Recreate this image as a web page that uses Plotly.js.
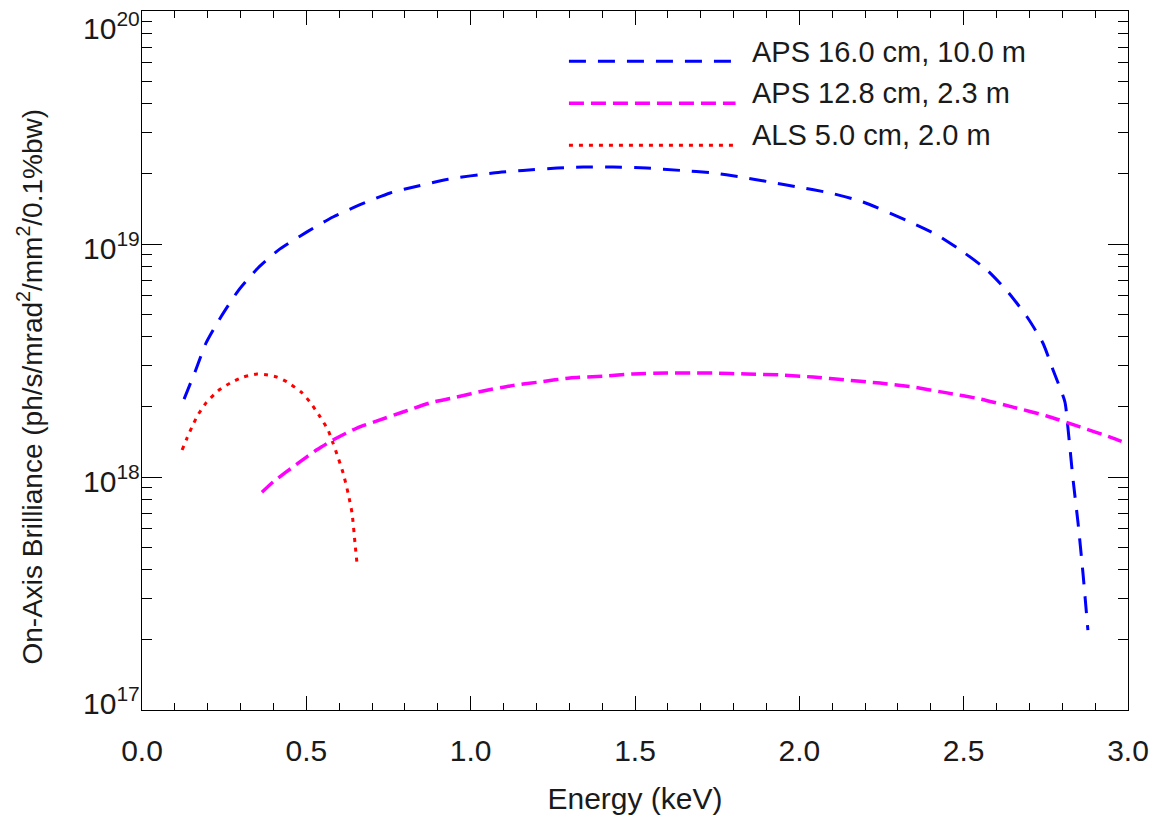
<!DOCTYPE html>
<html>
<head>
<meta charset="utf-8">
<script src="https://cdn.plot.ly/plotly-3.0.1.min.js"></script>
<style>
  html, body { margin: 0; padding: 0; background: #ffffff; }
  #plot { width: 1152px; height: 816px; }
</style>
</head>
<body>
<div id="plot"></div>
<script>
// Undulator on-axis brilliance versus photon energy

const seriesNames = ["APS 16.0 cm, 10.0 m", "APS 12.8 cm, 2.3 m", "ALS 5.0 cm, 2.0 m"];

// APS 16.0 cm period, 10.0 m long
const aps16Energy = [0.128, 0.161, 0.195, 0.240, 0.292, 0.353, 0.420, 0.502, 0.581, 0.669,
  0.755, 0.840, 0.931, 1.068, 1.159, 1.263, 1.342, 1.433, 1.536, 1.637,
  1.737, 1.819, 1.911, 1.993, 2.093, 2.194, 2.337, 2.419, 2.498,
  2.571, 2.635, 2.693, 2.741, 2.772, 2.808, 2.817, 2.833, 2.848, 2.863, 2.878];
const aps16Brilliance = [2.16e18, 2.82e18, 3.76e18, 4.86e18, 6.28e18, 7.89e18, 9.53e18, 1.127e19, 1.306e19, 1.486e19,
  1.656e19, 1.774e19, 1.897e19, 2.018e19, 2.070e19, 2.118e19, 2.138e19, 2.138e19, 2.118e19, 2.070e19,
  2.018e19, 1.941e19, 1.845e19, 1.758e19, 1.656e19, 1.514e19, 1.242e19, 1.094e19, 9.25e18,
  7.73e18, 6.22e18, 4.86e18, 3.76e18, 2.88e18, 2.10e18, 1.64e18, 9.70e17, 6.35e17, 3.87e17, 2.20e17];

// APS 12.8 cm period, 2.3 m long
const aps128Energy = [0.365, 0.399, 0.472, 0.532, 0.581, 0.654, 0.724, 0.794, 0.876, 0.958,
  1.038, 1.120, 1.211, 1.302, 1.403, 1.494, 1.597, 1.689, 1.737, 1.841,
  1.941, 2.042, 2.145, 2.245, 2.346, 2.449, 2.550, 2.650, 2.753, 2.854, 2.954, 3.0];
const aps128Brilliance = [8.60e17, 9.53e17, 1.138e18, 1.309e18, 1.442e18, 1.622e18, 1.758e18, 1.901e18, 2.080e18, 2.203e18,
  2.339e18, 2.460e18, 2.559e18, 2.661e18, 2.710e18, 2.767e18, 2.793e18, 2.793e18, 2.793e18, 2.767e18,
  2.742e18, 2.685e18, 2.606e18, 2.529e18, 2.432e18, 2.296e18, 2.163e18, 1.995e18, 1.828e18, 1.641e18, 1.469e18, 1.387e18];

// ALS 5.0 cm period, 2.0 m long
const alsEnergy = [0.122, 0.137, 0.152, 0.170, 0.195, 0.231, 0.268, 0.307, 0.350, 0.383,
  0.411, 0.441, 0.484, 0.511, 0.542, 0.566, 0.581, 0.596, 0.612, 0.627, 0.639, 0.648, 0.654];
const alsBrilliance = [1.306e18, 1.469e18, 1.641e18, 1.845e18, 2.080e18, 2.339e18, 2.529e18, 2.685e18, 2.767e18, 2.742e18,
  2.685e18, 2.559e18, 2.317e18, 2.099e18, 1.811e18, 1.592e18, 1.400e18, 1.219e18, 1.040e18, 8.53e17, 7.01e17, 5.21e17, 4.28e17];

// decade ticks on the brilliance axis
const yTickVals = [1e17, 1e18, 1e19, 1e20];
const yTickText = ["10<sup>17</sup>", "10<sup>18</sup>", "10<sup>19</sup>", "10<sup>20</sup>"];

const styles = [
  { color: "#0000ff", dash: "17px,12px", width: 3 },
  { color: "#ff00ff", dash: "15px,7px", width: 3.5 },
  { color: "#ff0000", dash: "4px,6px", width: 3 }
];

const xs = [aps16Energy, aps128Energy, alsEnergy];
const ys = [aps16Brilliance, aps128Brilliance, alsBrilliance];

const traces = xs.map((x, i) => ({
  x: x, y: ys[i], type: "scatter", mode: "lines", name: seriesNames[i],
  line: { color: styles[i].color, dash: styles[i].dash, width: styles[i].width, shape: "spline", smoothing: 0.6 },
  showlegend: false, hoverinfo: "x+y"
}));

// minor ticks on the log axis: 2..9 within each decade
const yMinor = [];
for (let d = 17; d < 20; d++) {
  for (let m = 2; m <= 9; m++) yMinor.push(m * Math.pow(10, d));
}

const family = "Liberation Sans, Arial, Helvetica, sans-serif";
const font = { family: family, size: 29, color: "#1a1a1a" };
const tickFont = { family: family, size: 30, color: "#1a1a1a" };
const yTickFont = { family: family, size: 30, color: "#1a1a1a" };
const titleFont = { family: family, size: 30, color: "#1a1a1a" };
const yTitleFont = { family: family, size: 28, color: "#1a1a1a" };

const annotations = [];
const shapes = [];

// hand-drawn legend: long line samples to the left of each label
const legendTop = [0.928, 0.868, 0.808];
const labelTop = [0.942, 0.882, 0.822];
seriesNames.forEach((name, i) => {
  shapes.push({
    type: "line", xref: "paper", yref: "paper",
    x0: 0.433, x1: 0.602, y0: legendTop[i], y1: legendTop[i],
    line: { color: styles[i].color, dash: styles[i].dash, width: styles[i].width }
  });
  annotations.push({
    xref: "paper", yref: "paper", x: 0.617, y: labelTop[i],
    xanchor: "left", yanchor: "middle", showarrow: false,
    text: name, font: font
  });
});

// decade labels; the first and last are kept inside the frame height
const labelShift = [9, -2, -2, -15];
yTickVals.forEach((v, k) => {
  annotations.push({
    xref: "paper", yref: "y", x: 0, y: Math.log10(v),
    xanchor: "right", yanchor: "middle", xshift: 0, yshift: labelShift[k],
    showarrow: false, text: yTickText[k], font: yTickFont
  });
});

// y-axis title
annotations.push({
  xref: "paper", yref: "paper", x: -0.1136, y: 0.5, yshift: -26,
  xanchor: "center", yanchor: "middle", textangle: -90, showarrow: false,
  text: "On-Axis Brilliance (ph/s/mrad<sup>2</sup>/mm<sup>2</sup>/0.1%bw)", font: yTitleFont
});

const layout = {
  width: 1152, height: 816,
  margin: { l: 142, r: 24, t: 11, b: 106 },
  paper_bgcolor: "#ffffff", plot_bgcolor: "#ffffff",
  font: font,
  showlegend: false,
  xaxis: {
    range: [0, 3.0], tickmode: "linear", tick0: 0, dtick: 0.5, tickformat: ".1f",
    ticks: "inside", ticklen: 14, tickwidth: 1, tickcolor: "#000000",
    minor: { dtick: 0.1, ticks: "inside", ticklen: 7, tickwidth: 1, tickcolor: "#000000", showgrid: false },
    showline: true, linecolor: "#000000", linewidth: 1, mirror: "allticks",
    showgrid: false, zeroline: false,
    ticklabelstandoff: 14,
    tickfont: tickFont,
    title: { text: "Energy (keV)", font: titleFont, standoff: 21 }
  },
  yaxis: {
    type: "log", range: [17, 20],
    tickmode: "array", tickvals: yTickVals, showticklabels: false,
    ticks: "inside", ticklen: 20, tickwidth: 1, tickcolor: "#000000",
    minor: { tickmode: "array", tickvals: yMinor, ticks: "inside", ticklen: 10, tickwidth: 1, tickcolor: "#000000", showgrid: false },
    showline: true, linecolor: "#000000", linewidth: 1, mirror: "allticks",
    showgrid: false, zeroline: false
  },
  shapes: shapes,
  annotations: annotations
};

Plotly.newPlot("plot", traces, layout, { displayModeBar: false, staticPlot: true });
</script>
</body>
</html>
